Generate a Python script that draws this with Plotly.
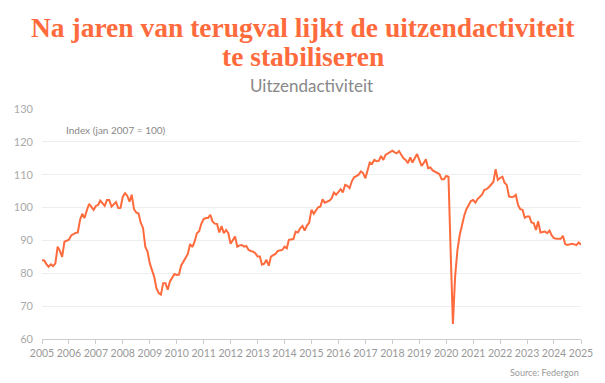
import pandas as pd
import plotly.graph_objects as go

# Monthly index values (jan 2007 = 100), Jan 2005 .. Jan 2025
v2005 = [84.0, 83.9, 82.8, 82.0, 82.7, 82.2, 83.0, 88.1, 86.8, 85.0, 89.6, 89.8]
v2006 = [90.2, 91.5, 91.9, 92.3, 92.4, 96.3, 98.1, 96.8, 99.2, 101.1, 100.2, 99.3]
v2007 = [100.5, 100.8, 102.1, 101.2, 100.5, 102.3, 102.3, 100.3, 101.0, 101.7, 99.8, 99.9]
v2008 = [103.3, 104.4, 103.6, 101.8, 103.9, 99.5, 98.5, 98.2, 95.3, 93.8, 88.1, 86.6]
v2009 = [83.0, 80.5, 79.0, 75.5, 74.0, 73.5, 77.0, 77.0, 75.0, 77.5, 78.5, 79.8]
v2010 = [79.5, 79.6, 82.3, 83.5, 84.3, 85.9, 88.9, 88.0, 89.7, 92.2, 92.8, 95.1]
v2011 = [96.5, 96.8, 96.8, 97.8, 95.8, 95.1, 95.0, 92.4, 94.4, 92.2, 93.2, 92.2]
v2012 = [89.0, 90.0, 91.2, 88.1, 88.5, 88.6, 88.1, 88.3, 87.1, 86.8, 86.6, 86.1]
v2013 = [85.1, 85.1, 82.6, 82.9, 84.1, 82.3, 85.1, 85.5, 85.9, 86.8, 87.0, 87.1]
v2014 = [88.1, 87.6, 90.2, 90.2, 90.4, 92.7, 92.4, 93.7, 94.4, 93.0, 94.5, 95.4]
v2015 = [99.3, 98.1, 99.0, 100.1, 100.3, 102.5, 101.5, 101.8, 102.1, 102.8, 104.6, 103.9]
v2016 = [104.8, 105.6, 104.6, 106.9, 106.6, 105.9, 108.0, 109.2, 109.6, 110.0, 111.0, 110.5]
v2017 = [108.9, 111.5, 113.7, 113.3, 114.5, 114.1, 114.2, 115.7, 114.5, 116.0, 116.5, 116.8]
v2018 = [117.3, 116.8, 116.5, 117.2, 116.0, 115.0, 114.5, 113.5, 115.3, 113.7, 115.0, 116.3]
v2019 = [114.5, 112.7, 113.5, 114.7, 112.0, 112.2, 111.3, 111.0, 110.7, 110.2, 108.6, 108.6]
v2020 = [109.6, 109.4, 87.0, 64.6, 79.0, 87.0, 91.5, 95.0, 97.5, 99.5, 101.0, 102.0]
v2021 = [102.3, 101.5, 102.6, 103.2, 103.9, 105.4, 105.6, 106.2, 107.0, 107.8, 111.7, 108.4]
v2022 = [109.0, 109.4, 107.6, 106.9, 103.4, 103.2, 103.3, 103.9, 100.8, 99.5, 99.3, 96.9]
v2023 = [97.3, 97.3, 95.5, 95.3, 93.2, 95.8, 92.4, 92.6, 92.7, 92.2, 93.0, 91.5]
v2024 = [90.7, 90.5, 90.4, 90.5, 91.4, 88.9, 88.6, 88.7, 89.0, 88.8, 88.6, 89.4]
v2025 = [88.7]

values = (v2005 + v2006 + v2007 + v2008 + v2009 + v2010 + v2011 + v2012 + v2013 + v2014
          + v2015 + v2016 + v2017 + v2018 + v2019 + v2020 + v2021 + v2022 + v2023 + v2024 + v2025)
months = pd.date_range("2005-01-01", periods=len(values), freq="MS")

years = list(range(2005, 2026))
tick_dates = [f"{y}-01-01" for y in years]
tick_labels = [str(y) for y in years]
y_ticks = [60, 70, 80, 90, 100, 110, 120, 130]

title_lines = ["Na jaren van terugval lijkt de uitzendactiviteit", "te stabiliseren"]

ORANGE = "#FF6B3D"
PLOT_TOP, PLOT_BOTTOM, PLOT_H = 109, 339, 230

def py(pix):
    return (PLOT_BOTTOM - pix) / PLOT_H

fig = go.Figure()
fig.add_trace(go.Scatter(x=months, y=values, mode="lines",
                         line=dict(color=ORANGE, width=2), hoverinfo="skip"))

annotations = []
for i, line in enumerate(title_lines):
    annotations.append(dict(text=f"<b>{line}</b>", xref="paper", yref="paper",
                            x=(303 - 42) / 540, y=py(10 + 29 * i),
                            xanchor="center", yanchor="top", showarrow=False,
                            font=dict(family="Liberation Serif", size=27.5, color=ORANGE)))
annotations += [
    dict(text="Uitzendactiviteit", xref="paper", yref="paper", x=0.5, y=py(86),
         xanchor="center", yanchor="middle", showarrow=False,
         font=dict(family="Lato", size=17, color="#888888")),
    dict(text="Index (jan 2007 = 100)", xref="paper", yref="paper", x=(64 - 42) / 540,
         y=py(130), xanchor="left", yanchor="middle", showarrow=False,
         font=dict(family="Lato", size=10, color="#888888")),
    dict(text="Source: Federgon", xref="paper", yref="paper", x=1.0, y=py(372),
         xanchor="right", yanchor="middle", showarrow=False,
         font=dict(family="Lato", size=9, color="#999999")),
]

fig.update_layout(
    width=605, height=383,
    margin=dict(l=42, r=22, t=109, b=44),
    paper_bgcolor="white", plot_bgcolor="white",
    showlegend=False,
    xaxis=dict(range=["2005-01-01", "2025-01-01"], tickvals=tick_dates, ticktext=tick_labels,
               showgrid=False, showline=True, linecolor="#cccccc", linewidth=1,
               ticks="outside", ticklen=4, tickcolor="#cccccc",
               tickfont=dict(family="Lato", size=10.5, color="#999999"), zeroline=False),
    yaxis=dict(range=[60, 130], tickvals=y_ticks, showgrid=True, gridcolor="#eeeeee",
               gridwidth=1, zeroline=False, showline=False, ticks="",
               tickfont=dict(family="Lato", size=11, color="#aaaaaa"), ticklabelstandoff=8),
    annotations=annotations,
)

fig.write_html("out.html", config={"displayModeBar": False},
               post_script="document.body.style.margin='0';")
